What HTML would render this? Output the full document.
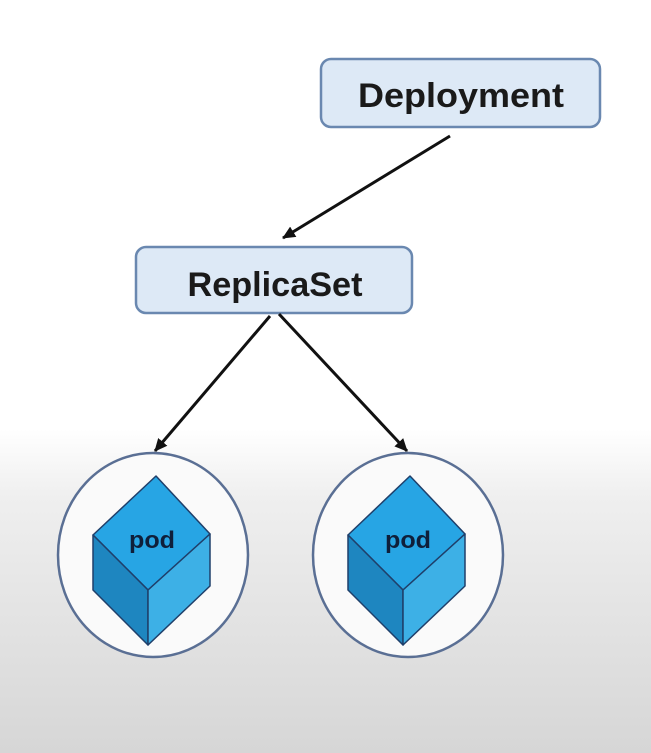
<!DOCTYPE html>
<html><head><meta charset="utf-8"><style>
html,body{margin:0;padding:0;width:651px;height:753px;overflow:hidden}
</style></head><body>
<svg width="651" height="753" viewBox="0 0 651 753" xmlns="http://www.w3.org/2000/svg">
<defs>
<linearGradient id="bg" x1="0" y1="0" x2="0" y2="1">
<stop offset="0" stop-color="#ffffff"/>
<stop offset="0.57" stop-color="#ffffff"/>
<stop offset="0.66" stop-color="#efefef"/>
<stop offset="1" stop-color="#d6d6d6"/>
</linearGradient>
<marker id="ah2" markerWidth="14" markerHeight="14" refX="12" refY="7" orient="auto" markerUnits="userSpaceOnUse">
<path d="M0,1 L13,7 L0,13 z" fill="#111"/>
</marker>
</defs>
<rect width="651" height="753" fill="url(#bg)"/>
<rect x="321" y="59" width="279" height="68" rx="10" fill="#dde9f6" stroke="#6a88b0" stroke-width="2.5"/>
<text x="461" y="107" text-anchor="middle" font-family="Liberation Sans, sans-serif" font-weight="bold" font-size="34" textLength="206" lengthAdjust="spacingAndGlyphs" fill="#1a1a1a">Deployment</text>
<rect x="136" y="247" width="276" height="66" rx="10" fill="#dde9f6" stroke="#6a88b0" stroke-width="2.5"/>
<text x="275" y="296" text-anchor="middle" font-family="Liberation Sans, sans-serif" font-weight="bold" font-size="34" textLength="175" lengthAdjust="spacingAndGlyphs" fill="#1a1a1a">ReplicaSet</text>
<line x1="450" y1="136" x2="283" y2="238" stroke="#111" stroke-width="3" marker-end="url(#ah2)"/>
<line x1="270" y1="316" x2="155" y2="451" stroke="#111" stroke-width="3" marker-end="url(#ah2)"/>
<line x1="279" y1="314" x2="407" y2="451" stroke="#111" stroke-width="3" marker-end="url(#ah2)"/>
<ellipse cx="153" cy="555" rx="95" ry="102" fill="#fafafa" stroke="#5a6f94" stroke-width="2.5"/>
<ellipse cx="408" cy="555" rx="95" ry="102" fill="#fafafa" stroke="#5a6f94" stroke-width="2.5"/>
<g stroke="#1f3f6a" stroke-width="1.5" stroke-linejoin="round">
<polygon points="156,476 210,534 148,590 93,535" fill="#27a5e4"/>
<polygon points="93,535 148,590 148,645 93,590" fill="#1e86c0"/>
<polygon points="148,590 210,534 210,586 148,645" fill="#3db0e6"/>
<polygon points="410,476 465,534 403,590 348,535" fill="#27a5e4"/>
<polygon points="348,535 403,590 403,645 348,590" fill="#1e86c0"/>
<polygon points="403,590 465,534 465,586 403,645" fill="#3db0e6"/>
</g>
<text x="152" y="548" text-anchor="middle" font-family="Liberation Sans, sans-serif" font-weight="bold" font-size="24" textLength="46" lengthAdjust="spacingAndGlyphs" fill="#0f1f3a">pod</text>
<text x="408" y="548" text-anchor="middle" font-family="Liberation Sans, sans-serif" font-weight="bold" font-size="24" textLength="46" lengthAdjust="spacingAndGlyphs" fill="#0f1f3a">pod</text>
</svg>
</body></html>
